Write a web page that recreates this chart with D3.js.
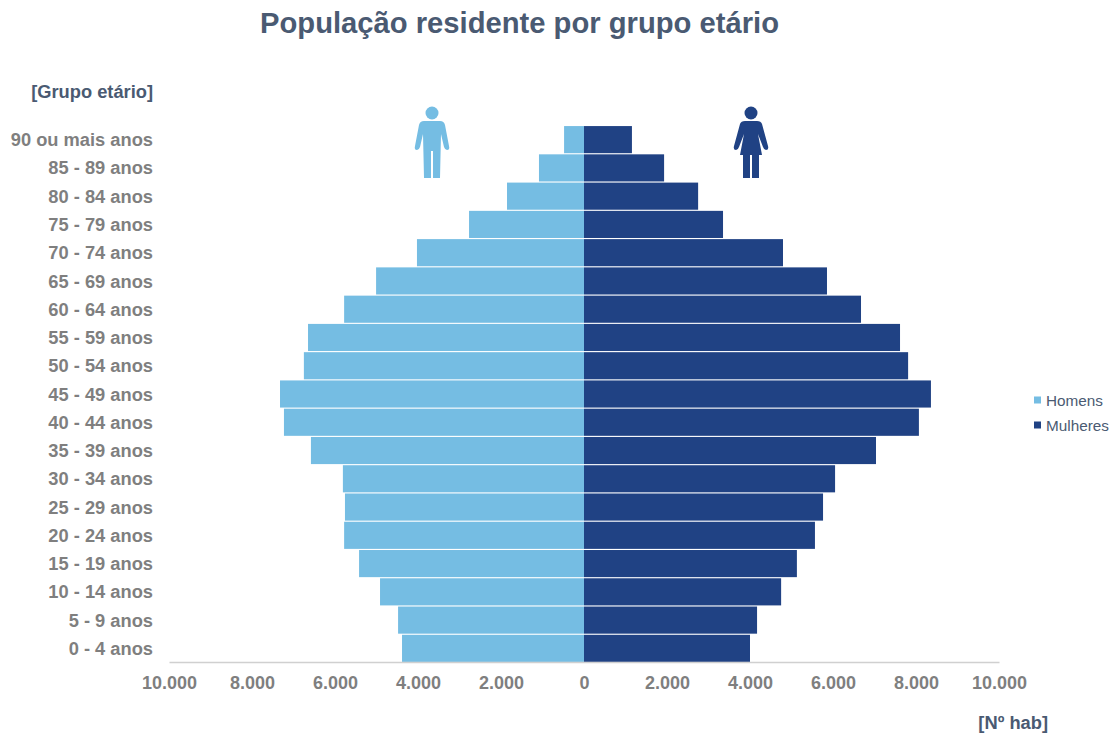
<!DOCTYPE html>
<html><head><meta charset="utf-8">
<script src="https://cdn.jsdelivr.net/npm/d3@7"></script>
<style>html,body{margin:0;background:#fff}svg{display:block}text{font-family:"Liberation Sans",Arial,sans-serif}</style>
</head><body><svg id="c" width="1117" height="735"></svg>
<script>
const ageGroups=["90 ou mais anos","85 - 89 anos","80 - 84 anos","75 - 79 anos","70 - 74 anos","65 - 69 anos","60 - 64 anos","55 - 59 anos","50 - 54 anos","45 - 49 anos","40 - 44 anos","35 - 39 anos","30 - 34 anos","25 - 29 anos","20 - 24 anos","15 - 19 anos","10 - 14 anos","5 - 9 anos","0 - 4 anos"];
const homens=[480,1085,1855,2770,4025,5010,5780,6650,6750,7325,7230,6580,5810,5760,5780,5420,4915,4480,4385];
const mulheres=[1155,1930,2750,3350,4795,5855,6675,7615,7810,8360,8070,7036,6050,5760,5565,5130,4750,4170,4000];
const xTicks=[-10000,-8000,-6000,-4000,-2000,0,2000,4000,6000,8000,10000];
const seriesNames=["Homens","Mulheres"];
const cLight="#75bde3",cDark="#204284",cTitle="#4a5a72",cGrey="#7f7f7f";

const svg=d3.select("#c");
const x=d3.scaleLinear().domain([-10000,10000]).range([169,999]);
const y=d3.scaleBand().domain(ageGroups).range([125.5,662.5]).paddingInner(0.04).paddingOuter(0.02);
const fmt=v=>d3.format(",")(Math.abs(v)).replace(/,/g,".");

svg.append("text").attr("x",519.5).attr("y",33).attr("text-anchor","middle")
  .attr("font-size",29.2).attr("font-weight",700).attr("fill",cTitle).text("População residente por grupo etário");
svg.append("text").attr("x",153).attr("y",98).attr("text-anchor","end")
  .attr("font-size",18.3).attr("font-weight",700).attr("fill",cTitle).text("[Grupo etário]");
svg.append("text").attr("x",1048).attr("y",729).attr("text-anchor","end")
  .attr("font-size",18.3).attr("font-weight",700).attr("fill",cTitle).text("[Nº hab]");

svg.append("g").selectAll("rect").data(ageGroups).join("rect")
  .attr("x",(d,i)=>x(-homens[i])).attr("y",d=>y(d))
  .attr("width",(d,i)=>x(0)-x(-homens[i])).attr("height",y.bandwidth()).attr("fill",cLight);
svg.append("g").selectAll("rect").data(ageGroups).join("rect")
  .attr("x",x(0)).attr("y",d=>y(d))
  .attr("width",(d,i)=>x(mulheres[i])-x(0)).attr("height",y.bandwidth()).attr("fill",cDark);

// category labels
const yAxis=svg.append("g").attr("transform","translate(153,0)")
  .call(d3.axisLeft(y).tickSize(0).tickPadding(0));
yAxis.select(".domain").remove();
yAxis.selectAll("text").attr("font-size",18.3).attr("font-weight",700).attr("fill",cGrey).attr("dy","0.36em")
  .style("font-family",'"Liberation Sans",Arial,sans-serif');

// value axis
const xAxis=svg.append("g").attr("transform","translate(0,662)")
  .call(d3.axisBottom(x).tickValues(xTicks).tickFormat(fmt).tickSize(0).tickPadding(0));
xAxis.select(".domain").attr("stroke","#d0d0d0").attr("stroke-width",1.5);
xAxis.selectAll("text").attr("font-size",18).attr("font-weight",700).attr("fill",cGrey).attr("y",14.5).attr("dy","0.71em")
  .style("font-family",'"Liberation Sans",Arial,sans-serif');

// legend
const lg=svg.append("g").selectAll("g").data(seriesNames).join("g")
  .attr("transform",(d,i)=>`translate(1034,${400+i*25})`);
lg.append("rect").attr("x",0).attr("y",-3.5).attr("width",7).attr("height",7).attr("fill",(d,i)=>i?cDark:cLight);
lg.append("text").attr("x",12).attr("dy","0.36em").attr("font-size",15.3).attr("fill",cTitle).text(d=>d);

// pictograms
const man=svg.append("g").attr("transform","translate(432,0)").attr("fill",cLight);
man.append("circle").attr("cy",113).attr("r",6.5);
man.append("path").attr("d","M-8,121 Q-12,121 -13,125 L-17,146 Q-18,150 -15,150 Q-13,150 -12,147 L-9,134 L-8,178 L-1,178 L-1,151 L1,151 L1,178 L8,178 L9,134 L12,147 Q13,150 15,150 Q18,150 17,146 L13,125 Q12,121 8,121 Z");
const woman=svg.append("g").attr("transform","translate(751,0)").attr("fill",cDark);
woman.append("circle").attr("cy",113).attr("r",6.5);
woman.append("path").attr("d","M-6,121 Q-10,121 -11,124 L-17,146 Q-18,150 -15,150 Q-13,150 -12,147 L-7,134 L-11,155 L-8,155 L-8,178 L-1,178 L-1,155 L1,155 L1,178 L8,178 L8,155 L11,155 L7,134 L12,147 Q13,150 15,150 Q18,150 17,146 L11,124 Q10,121 6,121 Z");
</script></body></html>
